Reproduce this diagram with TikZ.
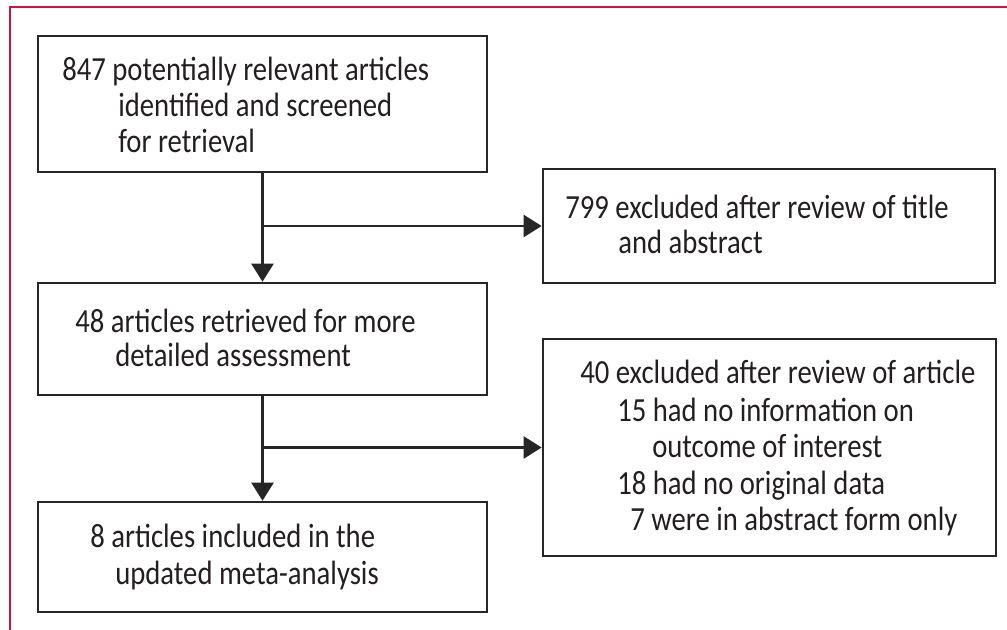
\documentclass[tikz,border=0pt]{standalone}
\usepackage{fontspec}
\setmainfont[FakeStretch=0.85]{Carlito}
\usepackage{tikz}
\usetikzlibrary{arrows.meta,calc}
\definecolor{framered}{RGB}{196,22,62}
\definecolor{textgray}{RGB}{35,31,32}

\begin{document}
\begin{tikzpicture}[x=0.025cm,y=-0.025cm,
    box/.style={draw=black!85, line width=1.8pt, inner sep=0pt, minimum width=11.225cm},
    txt/.style={anchor=base west, inner sep=0pt, text=textgray, font=\fontsize{24}{28}\selectfont},
    link/.style={draw=black!85, line width=1.6pt, -{Triangle[length=0.45cm,width=0.55cm]}}]
    \useasboundingbox (0,0) rectangle (1007,630);
    % outer frame
    \draw[framered, line width=1.4pt] (1007,7) -- (10,7) -- (10,630);

    % boxes
    \node[box, minimum height=3.4cm] (screen) at (262.5,104) {};
    \node[box, minimum width=11.3cm, minimum height=2.85cm] (excl1) at (769,226) {};
    \node[box, minimum height=2.8cm] (retr) at (262.5,339) {};
    \node[box, minimum width=11.325cm, minimum height=5.425cm] (excl2) at (769.5,447.5) {};
    \node[box, minimum height=2.75cm] (incl) at (262.5,557) {};

    % texts
    \node[txt] (screen1) at (62,81) {847 potentially relevant articles};
    \node[txt] (screen2) at (118,117) {identified and screened};
    \node[txt] (screen3) at (118,153) {for retrieval};
    \node[txt] (excla1) at (565,219) {799 excluded after review of title};
    \node[txt] (excla2) at (618,254) {and abstract};
    \node[txt] (retr1) at (75,332) {48 articles retrieved for more};
    \node[txt] (retr2) at (115,366) {detailed assessment};
    \node[txt] (exclb1) at (580,383) {40 excluded after review of article};
    \node[txt] (exclb2) at (617,421) {15 had no information on};
    \node[txt] (exclb3) at (652,457) {outcome of interest};
    \node[txt] (exclb4) at (617,494) {18 had no original data};
    \node[txt] (exclb5) at (630,530) {7 were in abstract form only};
    \node[txt] (incl1) at (90,547) {8 articles included in the};
    \node[txt] (incl2) at (115,584) {updated meta-analysis};

    % connectors
    \coordinate (j1) at (screen.south |- excl1.west);
    \coordinate (j2) at (retr.south |- excl2.west);
    \draw[link] (screen) -- (retr);
    \draw[link] (j1) -- (excl1.west);
    \draw[link] (retr) -- (incl);
    \draw[link] (j2) -- (excl2.west);
\end{tikzpicture}
\end{document}
